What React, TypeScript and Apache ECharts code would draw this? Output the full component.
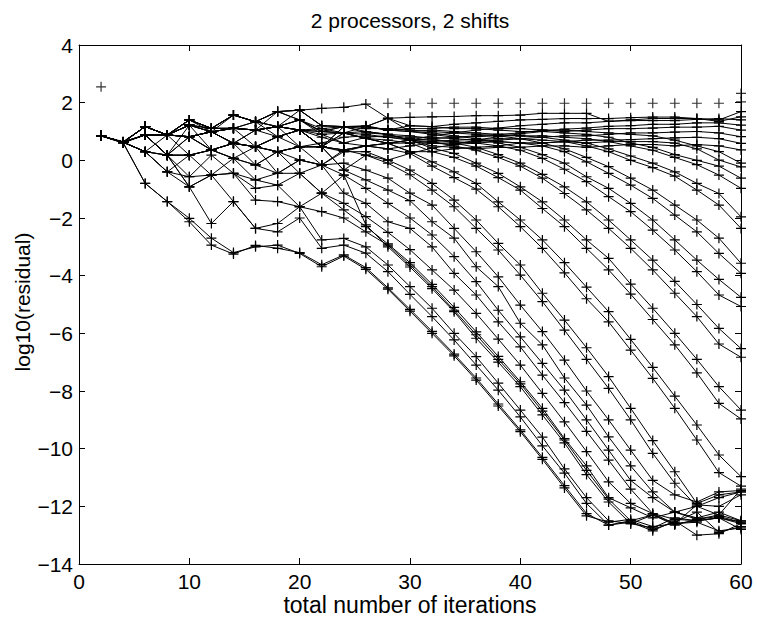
import React, { useEffect, useRef } from "react";
import * as echarts from "echarts";

const titleText = "2 processors, 2 shifts";
const xName = "total number of iterations";
const yName = "log10(residual)";

const iterations = [2, 4, 6, 8, 10, 12, 14, 16, 18, 20, 22, 24, 26, 28, 30, 32, 34, 36, 38, 40, 42, 44, 46, 48, 50, 52, 54, 56, 58, 60];

// early converging lines (lower-left bundle)
const C1 = [0.85, 0.6, -0.8, -1.43, -2.01, -2.7, -3.2, -3.0, -2.94, -3.23, -3.69, -3.32, -3.78, -4.47, -5.23, -6.0, -6.78, -7.62, -8.52, -9.41, -10.37, -11.36, -12.33, -12.55, -12.45, -12.7, -12.6, -12.55, -12.85, -12.75];
const C2 = [0.85, 0.62, -0.8, -1.43, -2.13, -2.94, -3.25, -2.95, -3.05, -3.2, -3.62, -3.28, -3.72, -4.42, -5.17, -5.93, -6.72, -7.55, -8.45, -9.35, -10.3, -11.28, -12.25, -12.65, -12.55, -12.85, -12.5, -13.0, -12.95, -12.6];
const C3 = [0.85, 0.63, 0.3, -0.4, -0.92, -2.19, -1.43, -2.36, -2.19, -1.61, -2.76, -2.71, -3.0, -3.63, -4.38, -5.13, -6.0, -6.81, -7.73, -8.66, -9.6, -10.7, -11.7, -12.5, -12.6, -12.75, -12.4, -12.5, -12.4, -12.55];
const C4 = [0.85, 0.6, 0.88, 0.18, -0.92, -0.51, -1.43, -2.36, -2.48, -2.0, -3.05, -2.94, -3.22, -3.86, -4.65, -5.42, -6.23, -7.1, -7.97, -8.9, -9.9, -10.85, -11.9, -12.65, -12.5, -12.3, -12.65, -12.45, -12.3, -12.5];
const C5 = [0.85, 0.65, 1.17, 0.88, 0.18, -0.51, 0.07, -0.68, -0.45, -0.45, -1.14, -1.72, -2.3, -2.9, -3.55, -4.3, -5.1, -5.95, -6.8, -7.68, -8.6, -9.65, -10.6, -11.7, -12.05, -12.4, -12.2, -12.45, -12.35, -12.55];
const C6 = [0.85, 0.62, 0.3, 0.18, -0.57, -0.51, -0.45, -0.97, -0.86, -1.61, -1.78, -2.0, -2.48, -2.94, -3.63, -4.38, -5.2, -6.05, -6.9, -7.75, -8.7, -9.7, -10.75, -11.75, -12.5, -12.8, -12.55, -12.2, -12.9, -12.7];
const C7 = [0.85, 0.63, 1.17, 0.88, 0.82, 0.36, 0.59, -0.16, -0.45, 0.01, -0.16, -0.51, -2.24, -3.0, -3.7, -4.45, -5.25, -6.17, -7.0, -7.85, -8.83, -9.8, -10.9, -11.85, -12.6, -12.3, -12.6, -11.95, -12.0, -11.6];
const C8 = [0.85, 0.63, 0.88, 0.88, 1.22, 0.99, 0.59, 0.47, 0.3, -0.45, -1.14, -1.49, -1.95, -2.5, -3.1, -3.8, -4.5, -5.31, -6.2, -7.1, -8.08, -9.07, -10.1, -11.15, -11.9, -12.25, -12.45, -12.5, -12.4, -12.8];

// later converging pairs
const Pj1 = [0.85, 0.63, 0.3, -0.4, -0.57, 0.18, -0.45, -1.38, -1.43, -1.61, -1.14, -0.51, -0.97, -1.49, -2.0, -2.59, -3.34, -4.21, -5.2, -6.12, -7.04, -7.97, -9.0, -10.05, -11.1, -11.7, -12.2, -12.0, -11.7, -11.5];
const Pj2 = [0.85, 0.63, 0.88, 0.18, -0.92, -0.51, -0.45, -0.68, -0.86, -0.45, -0.16, -1.14, -1.49, -2.13, -2.36, -3.0, -3.92, -4.67, -5.6, -6.47, -7.45, -8.4, -9.4, -10.4, -11.4, -12.25, -12.6, -12.5, -12.4, -12.6];
const Pi1 = [0.85, 0.63, 1.17, 0.88, 1.4, 1.11, 1.11, 0.47, -0.45, 0.01, -0.16, -0.1, -0.34, -0.62, -1.14, -1.55, -2.36, -3.17, -4.04, -5.02, -5.94, -6.93, -8.0, -9.0, -10.05, -11.1, -11.6, -11.85, -11.5, -11.45];
const Pi2 = [0.85, 0.63, 0.3, 0.18, 0.18, 0.36, 0.07, -0.16, 0.3, 0.47, 0.47, -0.34, -0.68, -1.03, -1.4, -2.13, -2.7, -3.69, -4.38, -5.65, -6.4, -7.55, -8.49, -9.59, -10.6, -11.5, -12.2, -12.4, -12.2, -12.5];
const Ph1 = [0.85, 0.63, 0.88, 0.88, 0.82, 0.99, 1.57, 1.34, 0.82, 1.05, 0.47, 0.3, 0.3, 0.01, -0.34, -0.8, -1.38, -2.07, -2.88, -3.63, -4.61, -5.54, -6.5, -7.5, -8.6, -9.72, -10.8, -11.9, -11.6, -11.5];
const Ph2 = [0.85, 0.63, 0.88, 0.18, 1.22, 0.36, 0.59, 1.05, 1.17, 0.47, -0.16, 0.36, 0.18, -0.1, -0.5, -1.03, -1.61, -2.36, -3.11, -3.98, -4.9, -5.89, -6.9, -7.91, -9.0, -10.16, -11.2, -12.0, -12.3, -11.4];
const Pg1 = [0.85, 0.63, 1.17, 0.88, 1.4, 1.11, 1.11, 1.05, 1.69, 1.4, 1.0, 0.95, 0.76, 0.59, 0.3, -0.05, -0.4, -0.8, -1.44, -2.07, -2.76, -3.55, -4.4, -5.25, -6.21, -7.18, -8.18, -9.18, -10.22, -10.97];
const Pg2 = [0.85, 0.63, 0.88, 0.88, 0.82, 0.99, 0.59, 0.47, 0.82, 1.05, 0.8, 0.6, 0.5, 0.4, 0.24, -0.2, -0.6, -1.0, -1.61, -2.3, -3.05, -3.9, -4.8, -5.6, -6.58, -7.56, -8.6, -9.7, -10.83, -11.3];
const Pf1 = [0.85, 0.63, 0.88, 0.88, 1.22, 1.11, 1.57, 1.34, 1.17, 1.74, 1.2, 1.17, 1.0, 0.9, 0.7, 0.42, 0.24, -0.1, -0.45, -0.92, -1.44, -2.07, -2.76, -3.4, -4.29, -5.13, -6.0, -6.9, -7.85, -8.66];
const Pf2 = [0.85, 0.63, 0.3, 0.88, 0.82, 0.99, 1.11, 1.05, 1.17, 1.05, 0.9, 0.95, 0.76, 0.7, 0.6, 0.3, 0.1, -0.2, -0.6, -1.03, -1.67, -2.3, -3.05, -3.8, -4.64, -5.52, -6.4, -7.37, -8.43, -8.97];
const Pe1 = [0.85, 0.63, 1.17, 0.88, 1.4, 0.99, 1.11, 1.34, 1.69, 1.4, 1.1, 0.95, 1.0, 0.9, 0.85, 0.75, 0.6, 0.45, 0.2, -0.1, -0.49, -0.92, -1.44, -2.07, -2.76, -3.46, -4.2, -5.0, -5.83, -6.53];
const Pe2 = [0.85, 0.63, 0.88, 0.18, 0.18, 0.36, 0.59, 0.47, 0.3, 0.47, 0.6, 0.8, 0.85, 0.8, 0.7, 0.65, 0.5, 0.35, 0.1, -0.2, -0.62, -1.15, -1.72, -2.36, -3.05, -3.8, -4.61, -5.42, -6.37, -6.83];
const Pd1 = [0.85, 0.63, 1.17, 0.88, 1.22, 1.11, 1.11, 1.05, 1.17, 1.05, 1.1, 1.17, 1.17, 1.05, 1.0, 0.95, 0.85, 0.75, 0.6, 0.45, 0.2, -0.1, -0.57, -0.97, -1.49, -2.07, -2.76, -3.46, -4.13, -4.75];
const Pd2 = [0.85, 0.63, 0.88, 0.88, 0.82, 0.99, 0.59, 0.47, 0.82, 0.47, 0.47, 0.95, 0.9, 0.8, 0.75, 0.7, 0.65, 0.6, 0.5, 0.35, 0.07, -0.31, -0.74, -1.26, -1.78, -2.42, -3.11, -3.86, -4.67, -5.07];
const Pc1 = [0.85, 0.63, 1.17, 0.88, 1.4, 1.11, 1.57, 1.34, 1.69, 1.74, 1.2, 1.17, 1.1, 1.1, 1.05, 1.0, 0.95, 0.9, 0.85, 0.75, 0.6, 0.4, 0.1, -0.22, -0.62, -1.03, -1.55, -2.07, -2.7, -3.57];
const Pc2 = [0.85, 0.63, 0.88, 0.88, 1.22, 0.99, 1.11, 1.05, 1.17, 1.4, 0.9, 0.6, 0.8, 0.85, 0.8, 0.8, 0.75, 0.7, 0.65, 0.6, 0.5, 0.3, -0.05, -0.45, -0.86, -1.32, -1.9, -2.48, -3.23, -3.92];
const Pb1 = [0.85, 0.63, 0.88, 0.88, 0.82, 0.99, 1.11, 1.05, 1.17, 1.05, 1.0, 1.17, 1.2, 1.05, 1.0, 1.05, 1.0, 0.95, 0.9, 0.85, 0.8, 0.7, 0.6, 0.4, 0.15, -0.1, -0.4, -0.8, -1.15, -1.96];
const Pb2 = [0.85, 0.63, 0.3, 0.18, 0.18, 0.36, 0.07, 0.47, 0.3, 0.47, 0.47, 0.36, 0.5, 0.59, 0.6, 0.65, 0.7, 0.72, 0.75, 0.75, 0.7, 0.65, 0.5, 0.3, 0.0, -0.25, -0.55, -1.03, -1.55, -2.36];
const Pa1 = [0.85, 0.63, 1.17, 0.88, 1.4, 1.11, 1.57, 1.34, 1.17, 1.05, 1.0, 0.95, 1.17, 1.46, 1.2, 1.17, 1.1, 1.1, 1.05, 1.0, 1.0, 0.95, 0.9, 0.8, 0.6, 0.45, 0.2, 0.0, -0.2, -0.62];
const Pa2 = [0.85, 0.63, 0.88, 0.88, 0.82, 0.99, 0.59, 1.05, 0.82, 1.05, 0.47, 0.36, 0.5, 0.59, 0.7, 0.75, 0.8, 0.82, 0.85, 0.85, 0.85, 0.8, 0.75, 0.65, 0.5, 0.35, 0.1, -0.15, -0.51, -0.97];
const P01 = [0.85, 0.63, 1.17, 0.88, 1.22, 0.99, 1.11, 1.05, 1.17, 1.4, 1.0, 1.17, 1.17, 1.05, 1.1, 1.1, 1.15, 1.15, 1.1, 1.1, 1.05, 1.05, 1.0, 0.95, 0.9, 0.85, 0.7, 0.5, 0.3, -0.1];
const P02 = [0.85, 0.63, 0.88, 0.18, 0.82, 0.36, 0.59, 0.47, 0.82, 1.05, 0.47, 0.95, 0.76, 0.59, 0.7, 0.6, 0.55, 0.6, 0.65, 0.6, 0.6, 0.65, 0.6, 0.65, 0.65, 0.65, 0.6, 0.4, 0.01, -0.23];

// not yet converged (plateau) lines
const Q1 = [0.85, 0.63, 1.17, 0.88, 1.4, 1.11, 1.57, 1.34, 1.69, 1.74, 1.8, 1.84, 1.95, 1.46, 1.49, 1.51, 1.52, 1.55, 1.55, 1.57, 1.63, 1.63, 1.63, 1.35, 1.4, 1.45, 1.45, 1.45, 1.4, 1.69];
const Q2 = [0.85, 0.63, 0.88, 0.88, 1.22, 0.99, 1.11, 1.05, 1.17, 1.05, 0.47, 1.17, 1.17, 1.05, 1.2, 1.17, 1.25, 1.3, 1.35, 1.4, 1.42, 1.45, 1.45, 1.45, 1.48, 1.5, 1.5, 1.45, 1.35, 1.51];
const Q3 = [0.85, 0.63, 1.17, 0.88, 0.82, 0.99, 0.59, 0.47, 0.3, 0.01, -0.16, 0.3, 0.5, 0.59, 0.7, 0.85, 0.95, 1.05, 1.12, 1.2, 1.25, 1.3, 1.3, 1.35, 1.38, 1.38, 1.38, 1.42, 1.45, 1.4];
const Q4 = [0.85, 0.63, 0.3, -0.4, 0.18, 0.36, 0.07, -0.16, 0.3, 0.47, 0.47, -0.34, 0.18, 0.01, 0.24, 0.42, 0.55, 0.7, 0.82, 0.92, 1.0, 1.08, 1.12, 1.18, 1.2, 1.25, 1.25, 1.3, 1.3, 1.22];
const Q5 = [0.85, 0.63, 0.88, 0.88, 1.4, 1.11, 1.57, 1.34, 1.17, 1.05, 0.47, 1.17, 1.17, 1.46, 1.0, 0.9, 0.8, 0.85, 0.9, 0.95, 1.05, 1.0, 1.05, 1.1, 1.1, 1.12, 1.15, 1.15, 1.18, 1.05];
const Q6 = [0.85, 0.63, 0.88, 0.18, 0.82, 0.36, 0.59, 0.47, 0.82, 1.05, 0.47, 0.36, 0.5, 0.4, 0.5, 0.6, 0.6, 0.65, 0.7, 0.75, 0.8, 0.85, 0.85, 0.9, 0.95, 0.95, 0.98, 1.0, 0.95, 0.82];
const Q7 = [0.85, 0.63, 1.17, 0.88, 0.82, 0.99, 1.11, 1.05, 1.17, 1.4, 1.0, 0.95, 0.76, 0.59, 0.3, 0.3, 0.4, 0.45, 0.5, 0.6, 0.6, 0.65, 0.7, 0.7, 0.72, 0.75, 0.78, 0.8, 0.75, 0.59];
const Q8 = [0.85, 0.63, 0.88, 0.88, 1.22, 1.11, 1.11, 1.34, 1.69, 1.74, 1.2, 1.17, 0.95, 0.9, 0.7, 0.5, 0.45, 0.4, 0.45, 0.45, 0.5, 0.5, 0.45, 0.5, 0.55, 0.55, 0.5, 0.55, 0.5, 0.36];

// isolated markers (no connecting line)
const markerX = [2, 28, 30, 32, 34, 36, 38, 40, 42, 44, 46, 48, 50, 52, 54, 56, 58, 60, 60];
const markerY = [2.55, 1.98, 1.98, 1.98, 1.98, 1.98, 1.98, 1.98, 1.98, 1.98, 1.98, 1.98, 1.98, 1.98, 1.98, 1.98, 1.98, 2.03, 2.32];

const residualLines = [
  C1, C2, C3, C4, C5, C6, C7, C8,
  Pj1, Pj2, Pi1, Pi2, Ph1, Ph2, Pg1, Pg2, Pf1, Pf2, Pe1, Pe2,
  Pd1, Pd2, Pc1, Pc2, Pb1, Pb2, Pa1, Pa2, P01, P02,
  Q1, Q2, Q3, Q4, Q5, Q6, Q7, Q8,
];

const xTicks = { min: 0, max: 60, interval: 10 };
const yTicks = { min: -14, max: 4, interval: 2 };

const PLUS = "path://M4.4,0H5.6V4.4H10V5.6H5.6V10H4.4V5.6H0V4.4H4.4Z";
const FONT = "'Liberation Sans', Arial, Helvetica, sans-serif";

const fmt = (v: number) => String(v).replace("-", "\u2212");

export default function App() {
  const ref = useRef<HTMLDivElement>(null);
  useEffect(() => {
    if (!ref.current) return;
    const chart = echarts.init(ref.current, undefined, { renderer: "svg" });
    const tickStyle = { show: true, inside: true, length: 6, lineStyle: { color: "#000", width: 1 } };
    const axisLine = { show: true, onZero: false, lineStyle: { color: "#000", width: 1 } };
    const lineSeries = residualLines.map((vals, k) => ({
      type: "line",
      name: "r" + k,
      data: vals.map((v, i) => [iterations[i], v]),
      symbol: PLUS,
      symbolSize: 10,
      showAllSymbol: true,
      lineStyle: { color: "#000", width: 1 },
      itemStyle: { color: "#000", borderWidth: 0 },
      silent: true,
      z: 2,
    }));
    const option = {
      animation: false,
      backgroundColor: "#fff",
      textStyle: { fontFamily: FONT },
      grid: { left: 79, right: 16, top: 45, bottom: 56, show: false },
      xAxis: [
        {
          type: "value",
          position: "bottom",
          ...xTicks,
          axisLine,
          axisTick: tickStyle,
          axisLabel: { color: "#000", fontSize: 21, margin: 7, fontFamily: FONT, formatter: fmt },
          splitLine: { show: false },
        },
        {
          type: "value",
          position: "top",
          ...xTicks,
          axisLine,
          axisTick: tickStyle,
          axisLabel: { show: false },
          splitLine: { show: false },
        },
      ],
      yAxis: [
        {
          type: "value",
          position: "left",
          ...yTicks,
          axisLine,
          axisTick: tickStyle,
          axisLabel: { color: "#000", fontSize: 21, margin: 6, fontFamily: FONT, formatter: fmt },
          splitLine: { show: false },
        },
        {
          type: "value",
          position: "right",
          ...yTicks,
          axisLine,
          axisTick: tickStyle,
          axisLabel: { show: false },
          splitLine: { show: false },
        },
      ],
      graphic: [
        { type: "text", x: 410, y: 20, style: { text: titleText, fill: "#000", font: "21px " + FONT, textAlign: "center", textVerticalAlign: "middle" } },
        { type: "text", x: 410, y: 605, style: { text: xName, fill: "#000", font: "23px " + FONT, textAlign: "center", textVerticalAlign: "middle" } },
        { type: "text", x: 22, y: 302, rotation: Math.PI / 2, style: { text: yName, fill: "#000", font: "21px " + FONT, textAlign: "center", textVerticalAlign: "middle" } },
      ],
      series: [
        ...lineSeries,
        {
          type: "scatter",
          name: "markers",
          data: markerX.map((x, i) => [x, markerY[i]]),
          symbol: PLUS,
          symbolSize: 10,
          itemStyle: { color: "#000", borderWidth: 0 },
          silent: true,
          z: 2,
        },
      ],
    };
    chart.setOption(option as any);
    return () => chart.dispose();
  }, []);
  return (
    <div
      ref={ref}
      style={{ position: "absolute", left: 0, top: 0, width: 757, height: 620, background: "#fff" }}
    />
  );
}
